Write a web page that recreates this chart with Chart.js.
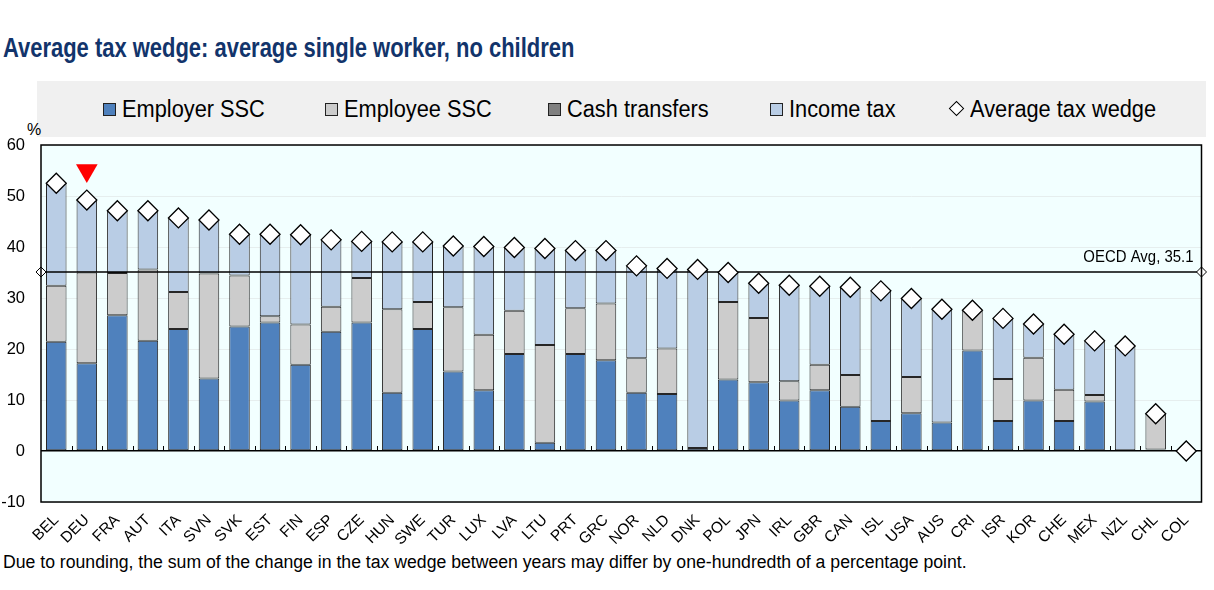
<!DOCTYPE html>
<html>
<head>
<meta charset="utf-8">
<script src="https://cdn.jsdelivr.net/npm/chart.js@4.4.1/dist/chart.umd.min.js"></script>
<style>
  body { margin: 0; width: 1214px; height: 590px; position: relative; overflow: hidden; background: #fff;
         font-family: "Liberation Sans Narrow", "Arial Narrow", "Liberation Sans", Arial, sans-serif; }
  .sq { display: inline-block; transform-origin: left center; white-space: nowrap; }
  #title { position: absolute; left: 3px; top: 33px; font-size: 27px; font-weight: bold; color: #12346b; white-space: nowrap; }
  #title .sq { transform: scaleX(0.813); }
  #legend { position: absolute; left: 37px; top: 81px; width: 1169px; height: 56px; background: #f0f0f0; }
  .item { position: absolute; top: 14px; font-size: 23.3px; line-height: 28px; color: #000; white-space: nowrap; }
  .item .sq { transform: scaleX(0.935); }
  .sw { display: inline-block; width: 11px; height: 11px; border: 1px solid #222; margin-right: 6px; position: relative; top: -1px; }
  .dm { display: inline-block; width: 9px; height: 9px; border: 1px solid #000; background: #fff; transform: rotate(45deg); margin: 0 8px 0 3px; position: relative; top: -3px; }
  #pct { position: absolute; left: 27px; top: 121px; font-size: 16px; }
  #wrap { position: absolute; left: 0; top: 130px; width: 1214px; height: 420px; }
  #note { position: absolute; left: 3px; top: 552px; font-size: 18px; }
  #note .sq { transform: scaleX(0.98); }
</style>
</head>
<body>
<div id="title"><span class="sq">Average tax wedge: average single worker, no children</span></div>
<div id="legend">
  <div class="item" style="left:66px"><span class="sw" style="background:#4f81bd"></span><span class="sq">Employer SSC</span></div>
  <div class="item" style="left:288px"><span class="sw" style="background:#cccccc"></span><span class="sq">Employee SSC</span></div>
  <div class="item" style="left:511px"><span class="sw" style="background:#808080"></span><span class="sq">Cash transfers</span></div>
  <div class="item" style="left:733px"><span class="sw" style="background:#b9cde5"></span><span class="sq">Income tax</span></div>
  <div class="item" style="left:911px"><span class="dm"></span><span class="sq">Average tax wedge</span></div>
</div>
<div id="pct">%</div>
<div id="wrap"><canvas id="chart"></canvas></div>
<div id="note"><span class="sq">Due to rounding, the sum of the change in the tax wedge between years may differ by one-hundredth of a percentage point.</span></div>
<script>
const categories = ['BEL','DEU','FRA','AUT','ITA','SVN','SVK','EST','FIN','ESP','CZE','HUN','SWE','TUR','LUX','LVA','LTU','PRT','GRC',
                    'NOR','NLD','DNK','POL','JPN','IRL','GBR','CAN','ISL','USA','AUS','CRI','ISR','KOR','CHE','MEX','NZL','CHL','COL'];
const employerSSC = [21.4,17.2,26.6,21.6,23.9,14.2,24.4,25.2,16.9,23.4,25.2,11.4,23.9,15.6,11.9,19.0,1.6,19.0,17.8,
                     11.4,11.2,0.6,14.0,13.5,9.9,11.9,8.7,5.9,7.4,5.6,19.7,5.9,9.9,5.9,9.7,0,0.3,0];
const employeeSSC = [11.0,17.8,8.3,14.0,7.3,20.6,10.0,1.2,7.9,4.9,8.7,16.4,5.3,12.6,10.9,8.5,19.2,9.0,11.1,
                     6.8,8.9,0,15.2,12.6,3.8,5.0,6.2,0,7.1,0,7.9,8.2,8.4,6.1,1.3,0,7.0,0];
const cashTransfers = [0,0,0,0,0,0,0,0,0,0,0,0,0,0,0,0,0,0,0,
                       0,0,0,0,0,0,0,0,0,0,0,0,0,0,0,0,0,0,0];
const incomeTax = [20.1,14.2,12.2,11.5,14.5,10.5,8.1,16.1,17.6,13.1,7.2,13.2,11.8,12.0,17.3,12.4,18.9,11.3,10.4,
                   18.1,15.7,35.0,5.8,6.8,18.8,15.4,17.2,25.5,15.4,22.2,0,11.9,6.6,10.9,10.6,20.6,0,0];
const taxWedge = [52.5,49.2,47.1,47.1,45.7,45.3,42.5,42.5,42.4,41.4,41.1,41.0,41.0,40.2,40.1,39.9,39.7,39.3,39.3,
                  36.3,35.8,35.6,35.0,32.9,32.5,32.3,32.1,31.4,29.9,27.8,27.6,26.0,24.9,22.9,21.6,20.6,7.3,0];
const highlightMarker = [{ x: 'DEU', y: 55 }];
const oecdAvg = 35.1;
const oecdLabel = 'OECD Avg, 35.1';
const yMin = -10, yMax = 60, yStep = 10;

const fontFamily = '"Liberation Sans Narrow", "Arial Narrow", "Liberation Sans", Arial, sans-serif';
Chart.defaults.font.family = fontFamily;
Chart.defaults.color = '#000';

// plot background, zero-line ticks, OECD average line and frame
const decor = {
  id: 'decor',
  beforeDraw(chart) {
    const { ctx, chartArea: a } = chart;
    ctx.save();
    ctx.fillStyle = '#f2ffff';
    ctx.fillRect(a.left, a.top, a.right - a.left, a.bottom - a.top);
    ctx.restore();
  },
  beforeDatasetDraw(chart, args) {
    if (args.index !== 0) return;
    const { ctx, chartArea: a, scales } = chart;
    const y = scales.y.getPixelForValue(oecdAvg);
    ctx.save();
    ctx.strokeStyle = '#000';
    ctx.lineWidth = 1.3;
    ctx.beginPath();
    ctx.moveTo(a.left, y);
    ctx.lineTo(a.right, y);
    ctx.stroke();
    [a.left, a.right].forEach(x => {
      ctx.beginPath();
      ctx.moveTo(x - 5, y); ctx.lineTo(x, y - 5); ctx.lineTo(x + 5, y); ctx.lineTo(x, y + 5); ctx.closePath();
      ctx.fillStyle = '#fff'; ctx.fill(); ctx.lineWidth = 1; ctx.stroke();
    });
    ctx.translate(a.right - 8, y - 6);
    ctx.scale(0.89, 1);
    ctx.fillStyle = '#000';
    ctx.font = '16.8px ' + fontFamily;
    ctx.textAlign = 'right';
    ctx.textBaseline = 'bottom';
    ctx.fillText(oecdLabel, 0, 0);
    ctx.restore();
  },
  afterDatasetsDraw(chart) {
    const { ctx, chartArea: a, scales } = chart;
    const y0 = scales.y.getPixelForValue(0);
    ctx.save();
    ctx.strokeStyle = '#000';
    ctx.lineWidth = 1;
    ctx.beginPath();
    for (let i = 1; i < categories.length; i++) {
      const x = Math.round((scales.x.getPixelForValue(i - 1) + scales.x.getPixelForValue(i)) / 2) + 0.5;
      ctx.moveTo(x, y0);
      ctx.lineTo(x, y0 - 5);
    }
    ctx.stroke();
    ctx.lineWidth = 1.5;
    ctx.strokeRect(a.left, a.top, a.right - a.left, a.bottom - a.top);
    ctx.restore();
  }
};

const barStyle = { type: 'bar', stack: 'parts', order: 2, borderColor: '#262626', borderWidth: 1, borderSkipped: false,
                   barPercentage: 0.84, categoryPercentage: 0.8 };

new Chart(document.getElementById('chart'), {
  data: {
    labels: categories,
    datasets: [
      { type: 'line', label: 'Average tax wedge', data: taxWedge, stack: 'tw', order: 0, showLine: false,
        pointStyle: 'rectRot', pointRadius: 10, pointBackgroundColor: '#fff', pointBorderColor: '#000', pointBorderWidth: 1.3 },
      { type: 'line', label: 'marker', data: highlightMarker, stack: 'mark', order: 0, showLine: false,
        pointStyle: 'triangle', pointRotation: 180, pointRadius: 12.5, pointBackgroundColor: '#ff0000', pointBorderWidth: 0 },
      { ...barStyle, label: 'Employer SSC', data: employerSSC, backgroundColor: '#4f81bd' },
      { ...barStyle, label: 'Employee SSC', data: employeeSSC, backgroundColor: '#cccccc' },
      { ...barStyle, label: 'Cash transfers', data: cashTransfers, backgroundColor: '#808080' },
      { ...barStyle, label: 'Income tax', data: incomeTax, backgroundColor: '#b9cde5' }
    ]
  },
  options: {
    responsive: true,
    maintainAspectRatio: false,
    animation: false,
    layout: { padding: { top: 15, right: 12, left: 0, bottom: 0 } },
    plugins: { legend: { display: false }, tooltip: { enabled: false } },
    scales: {
      x: {
        stacked: true,
        grid: { display: false },
        border: { display: false },
        ticks: { font: { size: 15.5 }, minRotation: 45, maxRotation: 45, autoSkip: false, padding: 1 },
        afterFit(scale) { scale.height = 48; }
      },
      y: {
        stacked: true,
        min: yMin, max: yMax,
        border: { display: false },
        grid: {
          drawTicks: false,
          color: c => c.tick.value === 0 ? '#000' : '#e6eeee',
          lineWidth: c => c.tick.value === 0 ? 1.5 : 1
        },
        ticks: { stepSize: yStep, font: { size: 16.5 }, padding: 16 },
        afterFit(scale) { scale.width = 41; scale.paddingTop = 0; scale.paddingBottom = 0; }
      }
    }
  },
  plugins: [decor]
});
</script>
</body>
</html>
